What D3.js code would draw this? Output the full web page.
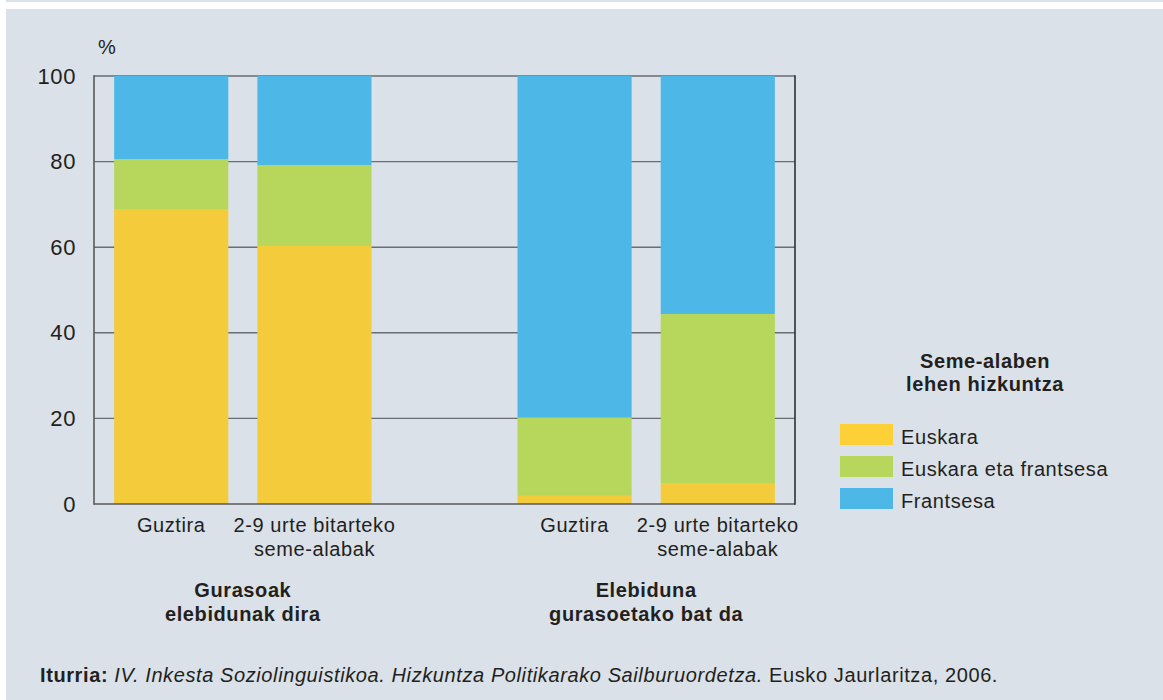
<!DOCTYPE html>
<html>
<head>
<meta charset="utf-8">
<script src="https://cdn.jsdelivr.net/npm/d3@7/dist/d3.min.js"></script>
<style>
  html, body { margin: 0; padding: 0; background: #ffffff; }
  svg { display: block; font-family: "Liberation Sans", Arial, sans-serif; }
  svg text { letter-spacing: 0.6px; }
</style>
</head>
<body>
<svg id="chart" width="1163" height="700"></svg>
<script>
// Lehen hizkuntza (%) per household type
const categories = ["Guztira", "2-9 urte bitarteko\nseme-alabak"];
const groups = ["Gurasoak\nelebidunak dira", "Elebiduna\ngurasoetako bat da"];
const seriesNames = ["Euskara", "Euskara eta frantsesa", "Frantsesa"];
const euskara = [68.9, 60.3, 1.9, 4.9];
const biak = [11.7, 18.9, 18.3, 39.5];
const frantsesa = [19.4, 20.8, 79.8, 55.6];
const yTicks = [0, 20, 40, 60, 80, 100];
const colors = ["#f3cb3b", "#b6d65c", "#4db8e8"];
const legendColors = ["#fdd038", "#b6d65c", "#4db8e8"];

const svg = d3.select("#chart");
const textColor = "#231f20";
const font = "Liberation Sans, Arial, sans-serif";

// page frame
svg.append("rect").attr("x", 6).attr("y", 0).attr("width", 1157).attr("height", 2).attr("fill", "#dae1e8");
svg.append("rect").attr("x", 6).attr("y", 9).attr("width", 1157).attr("height", 691).attr("fill", "#dae1e8");

const plot = { left: 94, right: 795, top: 76, bottom: 504 };

// groups, then two bars inside each group
const gx = d3.scaleBand().domain([0, 1]).range([plot.left, plot.right]).paddingInner(0.362).paddingOuter(0.05);
const bx = d3.scaleBand().domain([0, 1]).range([0, gx.bandwidth()]).paddingInner(0.203).paddingOuter(0);
const barX = i => gx(Math.floor(i / 2)) + bx(i % 2);
const y = d3.scaleLinear().domain([0, 100]).range([plot.bottom, plot.top]);

// gridlines and top border
svg.append("g").selectAll("line").data(yTicks.filter(t => t > 0)).join("line")
  .attr("x1", plot.left).attr("x2", plot.right)
  .attr("y1", d => y(d)).attr("y2", d => y(d))
  .attr("stroke", "#6a6d72").attr("stroke-width", 1.4);

// stacked bars
const rows = euskara.map((v, i) => ({ i, Euskara: v, "Euskara eta frantsesa": biak[i], Frantsesa: frantsesa[i] }));
const stack = d3.stack().keys(seriesNames)(rows);
svg.append("g").selectAll("g").data(stack).join("g")
  .attr("fill", (d, i) => colors[i])
  .selectAll("rect").data(d => d).join("rect")
  .attr("x", d => barX(d.data.i))
  .attr("width", bx.bandwidth())
  .attr("y", d => y(d[1]))
  .attr("height", d => y(d[0]) - y(d[1]));

// frame: left axis, bottom axis, right border
svg.append("line").attr("x1", plot.left).attr("x2", plot.left).attr("y1", plot.top - 0.7).attr("y2", plot.bottom + 0.8)
  .attr("stroke", "#58595b").attr("stroke-width", 1.6);
svg.append("line").attr("x1", plot.left).attr("x2", plot.right).attr("y1", plot.bottom).attr("y2", plot.bottom)
  .attr("stroke", "#58595b").attr("stroke-width", 1.6);
svg.append("line").attr("x1", plot.right).attr("x2", plot.right).attr("y1", plot.top - 0.7).attr("y2", plot.bottom + 0.8)
  .attr("stroke", "#2f3032").attr("stroke-width", 1.6);

// y axis labels
const yAxis = d3.axisLeft(y).tickValues(yTicks).tickSize(0).tickPadding(18);
const ya = svg.append("g").attr("transform", `translate(${plot.left},0)`).call(yAxis);
ya.select(".domain").remove();
ya.selectAll("text").attr("font-size", 22).attr("fill", textColor).attr("font-family", font);

svg.append("text").attr("x", 98).attr("y", 54).attr("font-size", 20).attr("fill", textColor).text("%");

// category labels
function multiline(sel, str, lh) {
  str.split("\n").forEach((s, i) => sel.append("tspan").attr("x", sel.attr("x")).attr("dy", i === 0 ? 0 : lh).text(s));
}
euskara.forEach((v, i) => {
  const t = svg.append("text").attr("x", barX(i) + bx.bandwidth() / 2).attr("y", 532)
    .attr("text-anchor", "middle").attr("font-size", 20).attr("fill", textColor);
  multiline(t, categories[i % 2], 24);
});

// group labels
groups.forEach((g, i) => {
  const t = svg.append("text").attr("x", gx(i) + gx.bandwidth() / 2).attr("y", 597)
    .attr("text-anchor", "middle").attr("font-size", 20).attr("font-weight", "bold").attr("fill", textColor);
  multiline(t, g, 24);
});

// legend
const lt = svg.append("text").attr("x", 985).attr("y", 368).attr("text-anchor", "middle")
  .attr("font-size", 20).attr("font-weight", "bold").attr("fill", textColor);
multiline(lt, "Seme-alaben\nlehen hizkuntza", 23);

const lg = svg.append("g").selectAll("g").data(seriesNames).join("g")
  .attr("transform", (d, i) => `translate(840,${424 + i * 32})`);
lg.append("rect").attr("width", 53).attr("height", 21).attr("fill", (d, i) => legendColors[i]);
lg.append("text").attr("x", 61).attr("y", 20).attr("font-size", 20).attr("fill", textColor).text(d => d);

// source note
const src = svg.append("text").attr("x", 40).attr("y", 682).attr("font-size", 20).attr("fill", textColor);
src.append("tspan").attr("font-weight", "bold").text("Iturria: ");
src.append("tspan").attr("font-style", "italic").text("IV. Inkesta Soziolinguistikoa. Hizkuntza Politikarako Sailburuordetza.");
src.append("tspan").text(" Eusko Jaurlaritza, 2006.");
</script>
</body>
</html>
